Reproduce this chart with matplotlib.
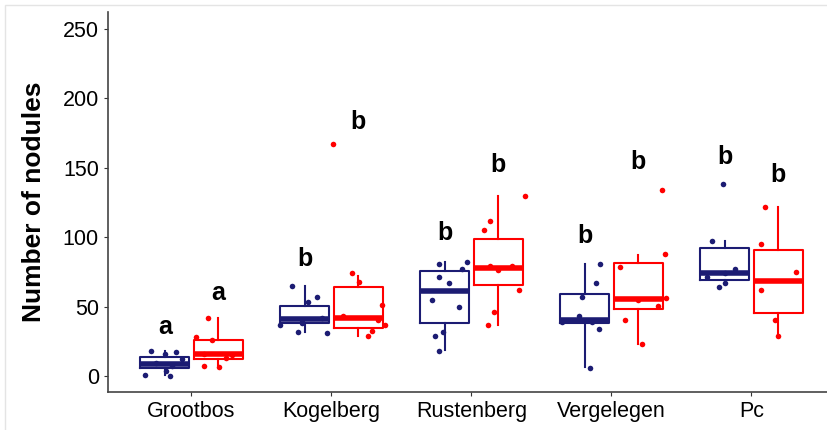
import matplotlib
matplotlib.use("Agg")
import matplotlib.pyplot as plt
from matplotlib.patches import Rectangle

plt.rcParams['font.family'] = ['Liberation Sans', 'DejaVu Sans']

sites = ["Grootbos", "Kogelberg", "Rustenberg", "Vergelegen", "Pc"]
navy = "#1c1c73"
red = "#ff0000"

# box stats: (whislo, q1, med, q3, whishi)
blue_stats = [(1, 6, 8.7, 13.7, 18),
              (32, 37.8, 40.7, 50.6, 65),
              (18.5, 37.8, 61.4, 75.4, 82),
              (6.5, 37.8, 40.5, 59, 81),
              (66, 69, 74, 92, 97)]
red_stats = [(8, 12, 15.7, 25.8, 42),
             (29, 34.2, 41.7, 63.8, 72),
             (37, 65.5, 77.8, 98.8, 129.5),
             (23, 48.2, 55.1, 81.4, 87.5),
             (29, 45, 68.1, 90.8, 121.6)]

# jittered points (value, horizontal jitter in category units)
blue_pts = [[18, 16, 17.5, 12.5, 9, 7, 3.5, 1, 0],
            [65, 57, 53, 42, 40, 38, 37, 32, 31],
            [82, 81, 77, 71, 67, 55, 50, 32, 29, 18],
            [81, 67, 57, 43, 38.5, 38.5, 34, 6],
            [138, 97, 77, 74, 71, 67, 64]]
blue_jit = [[-0.10, 0.0, 0.08, 0.12, -0.06, 0.05, 0.01, -0.14, 0.04],
            [-0.09, 0.09, 0.02, 0.12, -0.02, -0.02, -0.18, -0.05, 0.16],
            [0.16, -0.04, 0.12, -0.04, 0.03, -0.09, 0.10, -0.01, -0.07, -0.04],
            [0.11, 0.08, -0.02, -0.04, -0.16, 0.05, 0.10, 0.04],
            [-0.01, -0.09, 0.07, 0.0, -0.13, 0.0, -0.04]]
red_pts = [[42, 28, 26, 16, 15, 13, 7, 6.5],
           [167, 74, 68, 51, 43, 40, 37, 32.5, 29],
           [130, 112, 105, 79, 76, 79, 62, 46, 37],
           [134, 88, 78.5, 56, 55, 50.5, 40, 23],
           [122, 95, 75, 62, 40, 29]]
red_jit = [[-0.07, -0.16, -0.04, -0.10, 0.10, 0.06, -0.10, 0.01],
           [-0.18, -0.04, 0.01, 0.17, -0.11, 0.14, 0.19, 0.10, 0.07],
           [0.19, -0.06, -0.10, -0.06, 0.0, 0.10, 0.15, -0.03, -0.07],
           [0.17, 0.19, -0.13, 0.20, 0.0, 0.14, -0.09, 0.03],
           [-0.09, -0.12, 0.13, -0.12, -0.02, 0.0]]

# significance letters and their heights
blue_letters = ["a", "b", "b", "b", "b"]
blue_letter_y = [35, 84, 103, 101, 158]
red_letters = ["a", "b", "b", "b", "b"]
red_letter_y = [60, 183, 152, 154, 145]

fig = plt.figure(figsize=(8.27, 4.30), dpi=100)
ax = fig.add_axes([108 / 827, 1 - 392 / 430, 1 - 108 / 827, (392 - 12) / 430])

dodge = 0.19
width = 0.35

def to_bxp(stats):
    return [dict(whislo=s[0], q1=s[1], med=s[2], q3=s[3], whishi=s[4], fliers=[]) for s in stats]

for stats, sign, col in [(blue_stats, -1, navy), (red_stats, 1, red)]:
    pos = [i + 1 + sign * dodge for i in range(len(sites))]
    ax.bxp(to_bxp(stats), positions=pos, widths=width, showcaps=False,
           boxprops=dict(color=col, linewidth=1.5),
           whiskerprops=dict(color=col, linewidth=1.5),
           medianprops=dict(color=col, linewidth=4, solid_capstyle='butt'),
           manage_ticks=False)

for pts, jit, sign, col in [(blue_pts, blue_jit, -1, navy), (red_pts, red_jit, 1, red)]:
    for i in range(len(sites)):
        xs = [i + 1 + sign * dodge + j for j in jit[i]]
        ax.scatter(xs, pts[i], s=16, color=col, zorder=3, linewidths=0)

for i in range(len(sites)):
    ax.text(i + 1 - dodge, blue_letter_y[i], blue_letters[i], ha='center', va='center',
            fontsize=18, fontweight='bold')
    ax.text(i + 1 + dodge, red_letter_y[i], red_letters[i], ha='center', va='center',
            fontsize=18, fontweight='bold')

ax.set_xlim(0.404, 5.54)
ax.set_ylim(-11.6, 262.3)
ax.set_yticks([0, 50, 100, 150, 200, 250])
ax.set_xticks(range(1, len(sites) + 1))
ax.set_xticklabels(sites)
ax.tick_params(axis='both', labelsize=15.5, colors='#333333', length=3, width=0.8)
ax.tick_params(axis='both', labelcolor='black')
ax.set_ylabel("Number of nodules", fontsize=19, fontweight='bold', labelpad=12)
for s in ['top', 'right']:
    ax.spines[s].set_visible(False)
for s in ['left', 'bottom']:
    ax.spines[s].set_color('#444444')
    ax.spines[s].set_linewidth(1.2)

fig.patches.append(Rectangle((5 / 827, -0.1), 2, 1 - 5 / 430 + 0.1, transform=fig.transFigure,
                             fill=False, edgecolor='#e4e4e4', linewidth=1))

fig.savefig("out.png", dpi=100)
